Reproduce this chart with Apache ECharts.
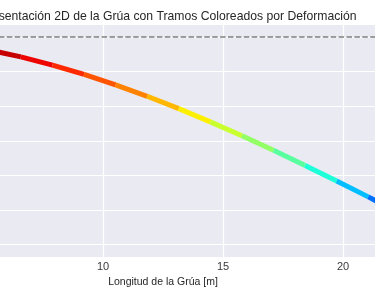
<!DOCTYPE html>
<html><head><meta charset="utf-8">
<script src="https://cdn.jsdelivr.net/npm/echarts@6/dist/echarts.min.js"></script>
<style>html,body{margin:0;padding:0;background:#fff}#c{width:375px;height:293px}</style>
</head><body><div id="c"></div>
<script>
const titleText = 'Representación 2D de la Grúa con Tramos Coloreados por Deformación';
const xAxisName = 'Longitud de la Grúa [m]';
const positions = [0, 1.316, 2.632, 3.947, 5.263, 6.579, 7.895, 9.211, 10.526, 11.842,
                   13.158, 14.474, 15.789, 17.105, 18.421, 19.737, 21.053, 22.368, 23.684, 25.0];
const deflections = [0, -0.0025, -0.0097, -0.0214, -0.0374, -0.0572, -0.0809, -0.1079, -0.1381, -0.1712,
                     -0.2070, -0.2451, -0.2853, -0.3275, -0.3711, -0.4161, -0.4621, -0.5090, -0.5564, -0.6040];
const xTicks = [0, 5, 10, 15, 20, 25];
const yTicks = [0, -0.1, -0.2, -0.3, -0.4, -0.5, -0.6];
const referenceLevel = 0;

// matplotlib 'jet' colormap
const JET = {
  r: [[0,0],[0.35,0],[0.66,1],[0.89,1],[1,0.5]],
  g: [[0,0],[0.125,0],[0.375,1],[0.64,1],[0.91,0],[1,0]],
  b: [[0,0.5],[0.11,1],[0.34,1],[0.65,0],[1,0]]
};
function interp(pts, t) {
  for (let i = 1; i < pts.length; i++) {
    if (t <= pts[i][0]) {
      const [x0, y0] = pts[i-1], [x1, y1] = pts[i];
      return y0 + (y1 - y0) * (t - x0) / (x1 - x0);
    }
  }
  return pts[pts.length-1][1];
}
function jet(t) {
  t = Math.max(0, Math.min(1, t));
  const c = k => Math.round(255 * interp(JET[k], t));
  return `rgb(${c('r')},${c('g')},${c('b')})`;
}
const yMinData = Math.min(...deflections), yMaxData = Math.max(...deflections);

const FONT = 'Liberation Sans';
const series = [];
for (let i = 0; i < positions.length - 1; i++) {
  const t = (deflections[i] - yMinData) / (yMaxData - yMinData);
  series.push({
    type: 'line',
    data: [[positions[i], deflections[i]], [positions[i+1], deflections[i+1]]],
    showSymbol: false,
    silent: true,
    lineStyle: { color: jet(t), width: 5, cap: 'butt' },
    z: 3
  });
}
series[0].markLine = {
  silent: true, symbol: 'none', animation: false,
  label: { show: false },
  lineStyle: { type: [5.5, 2.4], color: '#808080', width: 1.5 },
  data: [{ yAxis: referenceLevel }]
};

const chart = echarts.init(document.getElementById('c'), null, { renderer: 'canvas' });
chart.setOption({
  animation: false,
  backgroundColor: '#ffffff',
  title: {
    text: titleText,
    left: 156, top: 6, textAlign: 'center',
    textStyle: { fontFamily: FONT, fontSize: 12.2, fontWeight: 'normal', color: '#262626' }
  },
  grid: {
    left: -167, right: -118, top: 25, bottom: 36,
    show: true, backgroundColor: '#EAEAF2', borderWidth: 0,
    containLabel: false, outerBoundsMode: 'none'
  },
  xAxis: {
    type: 'value', min: -1.25, max: 26.25,
    name: xAxisName, nameLocation: 'middle', nameGap: 18,
    nameTextStyle: { fontFamily: FONT, fontSize: 10.5, color: '#262626' },
    axisLine: { show: false },
    axisTick: { show: false, customValues: xTicks },
    axisLabel: { customValues: xTicks, fontFamily: FONT, fontSize: 11, color: '#3a3a3a', margin: 4 },
    splitLine: { show: true, lineStyle: { color: '#ffffff', width: 1.2 } }
  },
  yAxis: {
    type: 'value', min: -0.636, max: 0.035,
    axisLine: { show: false },
    axisTick: { show: false, customValues: yTicks },
    axisLabel: { customValues: yTicks, fontFamily: FONT, fontSize: 11, color: '#3a3a3a' },
    splitLine: { show: true, lineStyle: { color: '#ffffff', width: 1.2 } }
  },
  series: series
});
</script>
</body></html>
